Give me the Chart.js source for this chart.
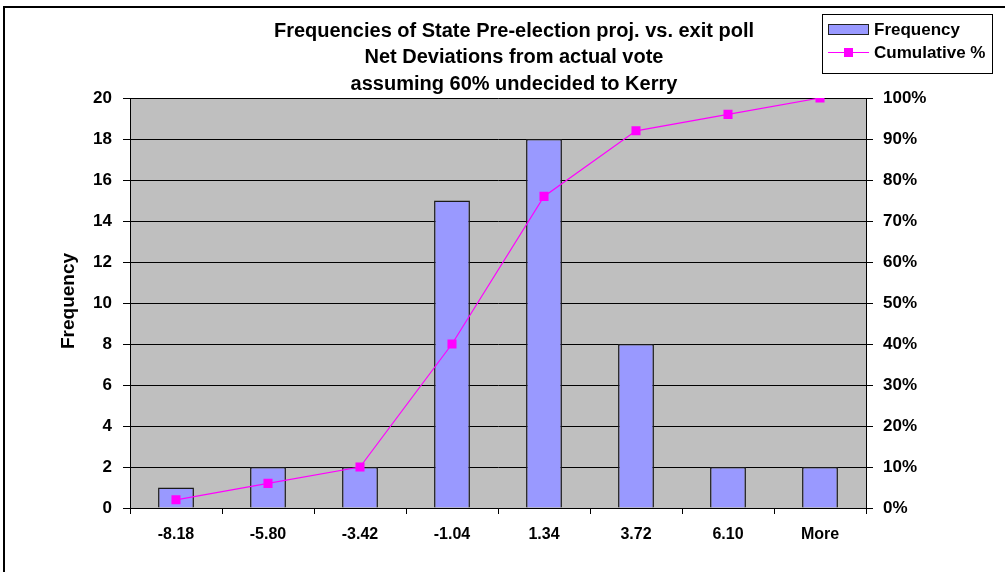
<!DOCTYPE html>
<html>
<head>
<meta charset="utf-8">
<script src="https://cdn.jsdelivr.net/npm/chart.js@4.4.1/dist/chart.umd.min.js"></script>
<style>
  body { margin: 0; background: #fff; }
  #wrap { width: 1005px; height: 572px; position: relative; }
</style>
</head>
<body>
<div id="wrap"><canvas id="histChart" width="1005" height="572"></canvas></div>
<script>
// bins (upper edges) and counts
const binLabels = ['-8.18', '-5.80', '-3.42', '-1.04', '1.34', '3.72', '6.10', 'More'];
const frequency = [1, 2, 2, 15, 18, 8, 2, 2];
const cumulativePct = [0.02, 0.06, 0.10, 0.40, 0.76, 0.92, 0.96, 1.00];

const titleLines = [
    'Frequencies of State Pre-election proj. vs. exit poll',
    'Net Deviations from actual vote',
    'assuming 60% undecided to Kerry'
];

const FONT = '"Liberation Sans", Arial, sans-serif';
const BAR_FILL = '#9999FF';
const LINE_COL = '#FF00FF';

// gray plot area + outer frame, title, legend, axis title
const decorPlugin = {
    id: 'decor',
    beforeDraw(chart) {
        const { ctx, chartArea: a } = chart;
        ctx.save();
        ctx.fillStyle = '#BFBFBF';
        ctx.fillRect(a.left, a.top, a.right - a.left, a.bottom - a.top);
        ctx.restore();
    },
    afterDraw(chart) {
        const ctx = chart.ctx;
        ctx.save();
        // outer frame (top & left only visible)
        ctx.strokeStyle = '#000';
        ctx.lineWidth = 2;
        ctx.beginPath();
        ctx.moveTo(4, 572);
        ctx.lineTo(4, 7);
        ctx.lineTo(1005, 7);
        ctx.stroke();

        // title
        ctx.fillStyle = '#000';
        ctx.font = 'bold 20px ' + FONT;
        ctx.textAlign = 'center';
        ctx.textBaseline = 'middle';
        const ys = [31, 57, 84];
        titleLines.forEach((t, i) => ctx.fillText(t, 514, ys[i]));

        // y axis title
        ctx.save();
        ctx.font = 'bold 19px ' + FONT;
        ctx.translate(69, 301);
        ctx.rotate(-Math.PI / 2);
        ctx.fillText('Frequency', 0, 0);
        ctx.restore();

        // legend
        ctx.lineWidth = 1;
        ctx.strokeStyle = '#000';
        ctx.strokeRect(822.5, 14.5, 170, 59);
        ctx.fillStyle = BAR_FILL;
        ctx.fillRect(828, 24, 41, 11);
        ctx.strokeStyle = '#222';
        ctx.strokeRect(828.5, 24.5, 40, 10);
        ctx.strokeStyle = LINE_COL;
        ctx.beginPath();
        ctx.moveTo(828, 52.5);
        ctx.lineTo(869, 52.5);
        ctx.stroke();
        ctx.fillStyle = LINE_COL;
        ctx.fillRect(844, 48, 9, 9);
        ctx.fillStyle = '#000';
        ctx.font = 'bold 17px ' + FONT;
        ctx.textAlign = 'left';
        ctx.fillText('Frequency', 874, 30);
        ctx.fillText('Cumulative %', 874, 53);
        ctx.restore();
    }
};

const ctx = document.getElementById('histChart').getContext('2d');
new Chart(ctx, {
    type: 'bar',
    data: {
        labels: binLabels,
        datasets: [{
            type: 'line',
            label: 'Cumulative %',
            data: cumulativePct,
            yAxisID: 'y1',
            borderColor: LINE_COL,
            backgroundColor: LINE_COL,
            borderWidth: 1.2,
            pointStyle: 'rect',
            pointRadius: 6.4,
            pointBorderWidth: 0,
            tension: 0,
            order: 1
        }, {
            label: 'Frequency',
            data: frequency,
            yAxisID: 'y',
            backgroundColor: BAR_FILL,
            borderColor: '#1a1a1a',
            borderWidth: 1.5,
            categoryPercentage: 1,
            barPercentage: 0.39,
            order: 2
        }]
    },
    options: {
        responsive: false,
        animation: false,
        layout: { padding: { top: 98, left: 0, right: 0, bottom: 0 } },
        plugins: {
            legend: { display: false },
            title: { display: false },
            tooltip: { enabled: false }
        },
        scales: {
            x: {
                offset: true,
                grid: { offset: true, drawOnChartArea: false, color: '#000', tickLength: 6 },
                border: { color: '#000', width: 1 },
                ticks: { color: '#000', font: { family: FONT, size: 16, weight: 'bold' }, padding: 11, maxRotation: 0 },
                afterFit(s) { s.height = 64; }
            },
            y: {
                position: 'left',
                min: 0, max: 20,
                ticks: { stepSize: 2, color: '#000', font: { family: FONT, size: 17, weight: 'bold' }, padding: 11 },
                grid: { color: '#000', lineWidth: 1, tickLength: 7 },
                border: { color: '#000', width: 1 },
                afterFit(s) { s.width = 130; }
            },
            y1: {
                position: 'right',
                min: 0, max: 1,
                ticks: {
                    stepSize: 0.1, color: '#000', padding: 10,
                    font: { family: FONT, size: 17, weight: 'bold' },
                    callback: v => Math.round(v * 100) + '%'
                },
                grid: { drawOnChartArea: false, color: '#000', tickLength: 7 },
                border: { color: '#000', width: 1 },
                afterFit(s) { s.width = 139; }
            }
        }
    },
    plugins: [decorPlugin]
});
</script>
</body>
</html>
